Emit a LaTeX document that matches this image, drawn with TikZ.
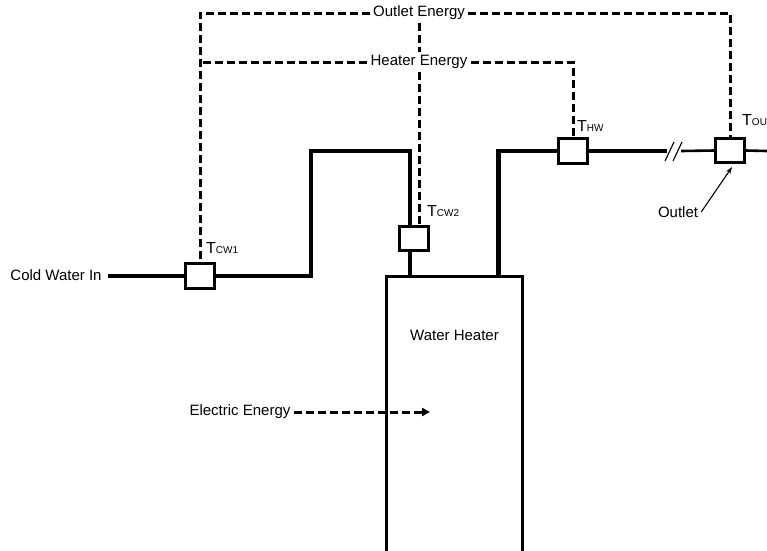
\documentclass[tikz,border=0pt]{standalone}
\usepackage{fontspec}
\setmainfont{Liberation Sans}
\usetikzlibrary{arrows.meta}
\tikzset{
  pipe/.style={line width=4.5pt},
  thinpipe/.style={line width=2.6pt},
  sensor/.style={draw, line width=2.6pt, minimum width=29pt, minimum height=24.5pt, inner sep=0pt, fill=white},
  tank/.style={draw, line width=3pt, minimum width=136pt, minimum height=300pt, anchor=north west, inner sep=0pt},
  energy/.style={line width=3pt, dash pattern=on 8pt off 4pt},
  tlabel/.style={anchor=base west, inner sep=0pt, font=\fontsize{16}{16}\selectfont},
  txt/.style={font=\fontsize{15}{18}\selectfont, inner sep=3pt},
}
\newcommand{\tsub}[2]{#1{\fontsize{10}{10}\selectfont #2}}
\begin{document}
\begin{tikzpicture}[x=1pt, y=-1pt]
  \useasboundingbox (0,0) rectangle (767,550);
  \node[tank] (tank) at (385,275) {};
  \node[txt] at ([yshift=-60pt]tank.north) {Water Heater};
  \node[sensor] (cw1) at (200,276) {};
  \node[sensor] (cw2) at (414,238.5) {};
  \node[sensor] (hw) at (573,151) {};
  \node[sensor] (out) at (730,150.5) {};
  \node[tlabel] at ([xshift=6pt,yshift=9pt]cw1.north) {\tsub{T}{CW1}};
  \node[tlabel] at ([xshift=13pt,yshift=8pt]cw2.north) {\tsub{T}{CW2}};
  \node[tlabel] at ([xshift=4pt,yshift=6pt]hw.north) {\tsub{T}{HW}};
  \node[tlabel] at ([xshift=12pt,yshift=11pt]out.north) {\tsub{T}{OUT}};
  \node[txt] (cwin) at (56,275) {Cold Water In};
  \node[txt] (ee) at (240,412) {Electric Energy};
  \node[txt] (outl) at (678,212) {Outlet};
  \node[txt] (oe) at (419,13) {Outlet Energy};
  \node[txt] (he) at (419,62) {Heater Energy};
  \coordinate (riser) at (311,151);
  \coordinate (brk1) at (667,151);
  \coordinate (brk2) at (681,151);
  \coordinate (pipeend) at (767,151);
  \coordinate (eein) at (430,412);
  % water lines
  \draw[pipe] (cw1.west) -- ([xshift=3pt]cw1.west -| cwin.east);
  \draw[pipe] (cw1.east) -| (riser) -| ([xshift=-4pt]cw2.north);
  \draw[pipe] ([xshift=-4pt]cw2.south) -- ([xshift=-4pt]cw2.south |- tank.north);
  \draw[pipe] (hw.west) -| ([xshift=44pt]tank.north);
  \draw[pipe] (hw.east) -- (brk1);
  \draw[line width=1.1pt] (665,161) -- (674,142) (673,161) -- (682,142);
  \draw[thinpipe] (brk2) -- (out.west);
  \draw[thinpipe] (out.east) -- (pipeend);
  % energy lines
  \draw[energy] (oe.west) -| (cw1.north);
  \draw[energy] (oe.east) -| (out.north);
  \draw[energy] (he.west) -- (he.west -| cw1.north);
  \draw[energy] (he.east) -| (hw.north);
  \draw[energy] (oe.south) -- (he.north);
  \draw[energy] (he.south) -- ([xshift=5pt]cw2.north);
  \draw[energy, -{Triangle[length=8pt,width=8pt]}] (ee.east) -- (eein);
  \draw[line width=1.1pt, -{Stealth[length=7pt,width=5pt]}] (outl.east) -- ([xshift=2pt,yshift=-3pt]out.south);
\end{tikzpicture}
\end{document}
